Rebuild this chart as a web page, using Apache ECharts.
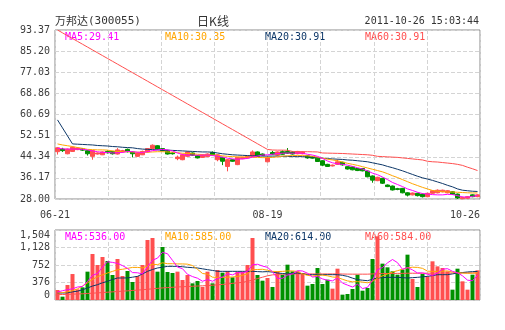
<!DOCTYPE html>
<html><head><meta charset="utf-8">
<script src="https://cdn.jsdelivr.net/npm/echarts@6/dist/echarts.min.js"></script>
<style>html,body{margin:0;padding:0;background:#fff}#c{width:505px;height:330px}</style>
</head><body><div id="c"></div>
<script>
// ---- text ----
const stockName = '万邦达';
const stockCode = '(300055)';
const chartTitle = '日K线';
const stamp = '2011-10-26 15:03:44';
const priceLegend = ['MA5:29.41', 'MA10:30.35', 'MA20:30.91', 'MA60:30.91'];
const volLegend = ['MA5:536.00', 'MA10:585.00', 'MA20:614.00', 'MA60:584.00'];
const priceTicks = ['28.00', '36.17', '44.34', '52.51', '60.69', '68.86', '77.03', '85.20', '93.37'];
const priceMin = 28.00, priceMax = 93.37;
const volTicks = [0, 376, 752, 1128, 1504];
const xTickLabels = ['06-21', '08-19', '10-26'];

// ---- candles [open, close, low, high] ----
const candles = [
[46.3,47.8,45.2,48.0],[47.3,46.7,46.2,47.8],[45.5,47.3,45.3,47.5],[46.4,48.0,46.2,48.3],[47.1,47.7,46.9,48.0],
[47.4,46.9,46.6,47.6],[46.7,45.5,44.8,46.9],[44.5,46.7,43.2,46.9],[45.4,45.8,45.2,46.0],[45.1,46.2,45.0,46.4],
[46.4,45.9,45.6,46.8],[46.4,45.5,45.2,46.6],[45.4,47.0,45.2,47.7],[46.2,46.7,46.0,47.0],[47.2,46.3,46.0,47.5],
[46.2,45.5,44.1,46.4],[44.5,45.8,44.3,46.0],[45.1,46.4,45.0,46.7],[46.2,47.5,46.0,47.7],[47.5,48.8,47.3,49.1],
[48.6,47.3,47.1,48.8],[47.5,46.7,46.5,47.7],[46.7,45.4,45.2,47.0],[45.8,45.5,45.2,46.1],[43.6,44.2,43.0,44.8],
[43.2,45.1,43.0,45.5],[44.5,46.2,44.3,46.5],[45.8,44.9,44.7,46.0],[44.8,43.9,43.7,45.0],[44.1,45.1,43.9,45.3],
[44.4,45.4,44.2,45.6],[46.0,45.1,44.9,46.4],[43.2,45.1,42.6,45.3],[44.1,42.6,41.1,44.3],[40.6,43.2,38.7,43.5],
[43.2,42.6,42.4,43.4],[41.3,44.1,41.1,44.3],[43.6,44.1,43.4,44.3],[43.9,44.5,43.7,44.8],[44.5,46.2,44.3,46.8],
[46.2,44.5,44.3,46.4],[45.4,44.8,44.6,45.6],[42.4,43.9,42.2,44.5],[46.0,45.3,45.0,46.6],[45.0,46.2,44.8,46.4],
[46.3,45.3,45.1,46.8],[46.4,45.7,45.5,47.7],[46.2,45.4,45.2,46.5],[45.5,46.4,45.3,46.6],[45.5,46.2,45.3,46.5],
[44.7,43.9,43.6,44.9],[44.4,43.8,43.6,44.6],[43.8,42.5,42.3,44.0],[42.8,41.1,40.7,43.0],[41.4,40.6,40.4,41.6],
[40.8,41.1,40.6,41.3],[41.4,42.4,41.2,43.3],[42.2,41.2,40.9,42.4],[40.5,39.6,39.4,40.7],[40.4,39.3,39.1,40.6],
[39.8,39.0,38.8,40.0],[39.8,38.9,38.7,40.0],[38.8,36.6,36.4,39.0],[36.9,35.3,34.3,37.1],[35.1,36.4,34.9,36.6],
[36.0,34.1,33.8,36.2],[33.4,32.8,32.6,33.6],[33.0,31.5,31.3,33.2],[32.0,31.7,31.4,32.3],[32.1,30.4,30.2,32.3],
[30.4,29.5,29.0,30.6],[29.6,30.3,29.4,30.5],[30.2,29.3,29.0,30.4],[29.9,28.9,28.6,30.1],[28.9,30.2,28.7,30.4],
[30.2,31.2,30.0,31.4],[30.4,31.4,30.2,31.7],[30.8,31.4,30.6,31.6],[30.4,31.2,30.2,31.4],[30.8,29.8,29.6,31.0],
[29.9,28.4,28.0,30.1],[28.1,28.6,28.0,28.9],[28.3,28.9,28.1,29.1],[29.6,28.9,28.7,29.8],[28.9,29.6,28.7,29.8]
];

const ma5 = [47.6,47.4,47.3,47.3,47.3,47.2,47.0,46.6,46.3,46.0,46.0,45.8,45.9,46.0,46.4,46.3,46.1,46.0,46.3,46.7,
47.0,47.2,47.0,46.6,45.8,45.2,45.0,45.0,44.9,45.0,45.0,44.8,44.6,44.2,43.8,43.5,43.4,43.5,43.7,44.2,
44.6,45.0,45.1,45.3,45.6,45.7,45.8,45.7,45.8,45.7,45.3,45.0,44.5,43.7,42.7,42.0,41.6,41.4,41.1,40.6,
40.1,39.6,38.9,38.0,37.4,36.5,35.5,34.4,33.6,32.8,31.9,31.3,30.6,30.1,29.9,29.7,29.6,29.6,29.8,29.7,
29.3,28.8,28.7,29.0,29.41];
const ma10 = [49.3,48.9,48.6,48.3,47.9,47.6,47.2,47.1,47.0,47.0,46.9,46.6,46.4,46.3,46.3,46.2,46.1,46.1,46.1,46.2,
46.3,46.3,46.2,46.1,45.9,45.7,45.6,45.5,45.3,45.2,45.0,45.0,44.9,44.7,44.5,44.4,44.3,44.3,44.2,44.1,
44.1,44.0,44.0,44.1,44.3,44.6,44.7,44.8,44.8,44.8,44.7,44.5,44.2,43.8,43.4,43.1,42.8,42.3,41.8,41.4,
41.0,40.5,40.0,39.5,39.0,38.5,37.8,37.0,36.3,35.5,34.7,33.9,33.2,32.5,31.9,31.3,31.0,30.8,30.7,30.7,
30.6,30.5,30.4,30.35,30.35];
const ma20 = [58.6,55.5,52.4,49.3,49.2,49.1,49.0,48.9,48.7,48.6,48.5,48.3,48.2,48.0,47.9,47.8,47.5,47.3,47.2,47.1,
47.0,46.9,46.9,46.8,46.7,46.6,46.5,46.4,46.3,46.2,46.2,46.1,45.8,45.5,45.3,45.1,45.0,44.9,44.8,44.7,
44.7,44.6,44.6,44.6,44.6,44.5,44.5,44.4,44.4,44.4,44.3,44.2,44.0,43.8,43.6,43.5,43.4,43.3,43.1,43.0,
42.8,42.6,42.4,42.0,41.6,41.2,40.6,40.1,39.5,38.9,38.2,37.5,36.8,36.2,35.7,35.2,34.6,34.0,33.3,32.7,
31.9,31.4,31.2,31.0,30.91];
const ma60 = [93.37,92.27,91.17,90.07,88.97,87.87,86.77,85.67,84.57,83.47,82.37,81.27,80.17,79.07,77.97,76.87,75.77,74.67,73.57,72.47,
71.37,70.27,69.17,68.07,66.97,65.87,64.77,63.67,62.57,61.47,60.37,59.27,58.17,57.07,55.97,54.87,53.77,52.67,51.57,50.47,
49.37,48.27,47.17,46.95,46.9,46.9,46.85,46.4,46.35,46.3,46.3,46.25,46.2,45.8,45.75,45.7,45.65,45.6,45.5,45.4,
45.3,45.2,45.1,44.9,44.5,44.4,44.3,44.2,44.1,43.9,43.7,43.5,43.3,43.1,42.6,42.4,42.3,42.1,41.9,41.7,
41.4,41.0,40.3,39.7,39.0];

// ---- volume ----
const volume = [215,72,322,558,229,272,609,988,752,924,838,537,881,516,623,387,516,752,1289,1332,
609,1139,602,580,609,430,537,358,408,280,609,358,645,587,623,487,609,609,752,1332,
537,415,473,280,616,544,759,616,616,580,308,344,688,344,437,244,673,115,129,236,
544,200,258,881,1368,781,702,616,544,652,974,451,279,559,508,831,723,688,616,222,
673,401,222,544,637];
const vma5 = [170,200,222,240,279,291,398,531,570,709,822,808,786,739,679,589,585,559,713,855,
900,1024,994,852,708,672,552,503,468,403,438,403,460,496,564,540,590,583,616,758,
768,729,702,607,464,466,534,563,630,623,576,493,507,453,424,411,477,363,320,279,
339,245,273,424,650,698,798,870,802,659,698,647,580,583,554,526,580,662,673,616,
584,520,427,412,530];
const vma10 = [150,160,175,200,240,300,370,440,500,540,580,615,650,660,680,700,700,690,730,765,
760,800,780,780,775,775,770,740,660,570,555,490,485,485,490,495,505,530,565,650,
655,660,640,615,612,615,625,625,615,560,530,515,530,535,520,495,485,445,410,390,
395,385,370,400,470,520,560,600,630,660,690,705,700,680,620,615,615,620,625,600,
585,580,575,575,585];
const vma20 = [150,150,155,175,190,220,258,300,329,370,401,440,473,473,475,490,508,560,616,655,
688,705,723,723,723,715,702,695,688,670,652,635,616,616,616,616,616,616,616,616,
610,605,610,600,580,570,559,570,580,565,544,544,544,544,544,544,544,530,508,470,
437,425,415,445,473,480,487,487,487,480,473,480,487,498,508,525,544,544,544,560,
580,590,602,610,614];
const vma60 = [115,118,122,126,130,134,140,147,153,160,167,175,182,190,197,205,212,220,230,240,
250,260,267,273,280,285,290,295,300,305,310,318,326,335,345,358,368,380,400,430,
460,490,520,540,550,555,558,560,560,560,560,560,560,560,560,560,560,558,556,555,
555,555,555,560,565,568,570,570,572,572,575,575,575,575,576,578,578,580,580,580,
581,582,582,583,584];

// ---- style ----
const UP = '#ff4f4f', DOWN = '#009100';
const maColors = ['#ff00ff', '#ffa500', '#0d3768', '#ff4f4f'];
const mono = 'DejaVu Sans Mono';
const cjk = 'Noto Sans CJK SC';
const labelColor = '#3c3c3c';

const chart = echarts.init(document.getElementById('c'), null, {renderer: 'canvas'});
const idx = candles.map((_, i) => i);
const gridLine = {show: true, lineStyle: {color: '#d4d4d4', type: [4, 2], width: 1}};
const noLine = {show: false};

function maLine(name, data, color, xi, yi) {
  return {name, type: 'line', data, xAxisIndex: xi, yAxisIndex: yi, showSymbol: false, symbol: 'none',
    silent: true, lineStyle: {color, width: 1}, itemStyle: {color}, z: 3};
}

const legendText = (arr, y) => arr.map((t, i) => ({
  type: 'text', x: 65 + i * 100, y, silent: true,
  style: {text: t, fill: maColors[i], font: '10px "' + mono + '"', textVerticalAlign: 'middle', verticalAlign: 'middle'}
}));

const option = {
  animation: false,
  grid: [
    {left: 55, top: 30, width: 425, height: 169, show: true, borderColor: '#8a8a8a', borderWidth: 1, backgroundColor: '#fff'},
    {left: 55, top: 230, width: 425, height: 70, show: true, borderColor: '#8a8a8a', borderWidth: 1, backgroundColor: '#fff'}
  ],
  xAxis: [
    {type: 'category', gridIndex: 0, data: idx, show: false, boundaryGap: true},
    {type: 'value', gridIndex: 0, position: 'bottom', min: 0, max: 8, interval: 1,
      axisLine: noLine, axisTick: noLine, splitLine: gridLine,
      axisLabel: {show: true, margin: 11, color: labelColor, fontFamily: mono, fontSize: 10,
        alignMaxLabel: 'right',
        formatter: v => v === 0 ? xTickLabels[0] : v === 4 ? xTickLabels[1] : v === 8 ? xTickLabels[2] : ''}},
    {type: 'category', gridIndex: 1, data: idx, show: false, boundaryGap: true},
    {type: 'value', gridIndex: 1, position: 'bottom', min: 0, max: 8, interval: 1,
      axisLine: noLine, axisTick: noLine, splitLine: gridLine, axisLabel: {show: false}}
  ],
  yAxis: [
    {type: 'value', gridIndex: 0, min: priceMin, max: priceMax, show: false, splitLine: noLine},
    {type: 'value', gridIndex: 0, position: 'left', min: 0, max: priceTicks.length - 1, interval: 1,
      axisLine: noLine, axisTick: noLine, splitLine: gridLine,
      axisLabel: {margin: 5, color: labelColor, fontFamily: mono, fontSize: 10, formatter: v => priceTicks[v]}},
    {type: 'value', gridIndex: 1, position: 'left', min: volTicks[0], max: volTicks[volTicks.length - 1],
      interval: volTicks[1] - volTicks[0],
      axisLine: noLine, axisTick: noLine, splitLine: gridLine,
      axisLabel: {margin: 5, color: labelColor, fontFamily: mono, fontSize: 10,
        verticalAlignMinLabel: 'bottom', verticalAlignMaxLabel: 'top'}}
  ],
  series: [
    {type: 'candlestick', xAxisIndex: 0, yAxisIndex: 0, data: candles, barWidth: 4, silent: true,
      itemStyle: {color: UP, color0: DOWN, borderColor: UP, borderColor0: DOWN, borderWidth: 1}, z: 2},
    maLine('MA60', ma60, maColors[3], 0, 0),
    maLine('MA20', ma20, maColors[2], 0, 0),
    maLine('MA10', ma10, maColors[1], 0, 0),
    maLine('MA5', ma5, maColors[0], 0, 0),
    {type: 'bar', xAxisIndex: 2, yAxisIndex: 2, barWidth: 4, silent: true, z: 2,
      data: volume.map((v, i) => ({value: v, itemStyle: {color: candles[i][1] >= candles[i][0] ? UP : DOWN}}))},
    maLine('VMA60', vma60, maColors[3], 2, 2),
    maLine('VMA20', vma20, maColors[2], 2, 2),
    maLine('VMA10', vma10, maColors[1], 2, 2),
    maLine('VMA5', vma5, maColors[0], 2, 2)
  ],
  graphic: [
    {type: 'text', x: 55, y: 21, silent: true,
      style: {text: stockName, fill: '#333', font: '11px "' + cjk + '"', textVerticalAlign: 'middle', verticalAlign: 'middle'}},
    {type: 'text', x: 88, y: 21, silent: true,
      style: {text: stockCode, fill: '#333', font: '11px "' + mono + '"', textVerticalAlign: 'middle', verticalAlign: 'middle'}},
    {type: 'text', x: 213, y: 21, silent: true,
      style: {text: chartTitle, fill: '#333', font: '12px "' + cjk + '"', textAlign: 'center', align: 'center', textVerticalAlign: 'middle', verticalAlign: 'middle'}},
    {type: 'text', x: 479, y: 21, silent: true,
      style: {text: stamp, fill: '#333', font: '10px "' + mono + '"', textAlign: 'right', align: 'right', textVerticalAlign: 'middle', verticalAlign: 'middle'}},
    ...legendText(priceLegend, 37),
    ...legendText(volLegend, 237)
  ]
};
chart.setOption(option);
</script>
</body></html>
